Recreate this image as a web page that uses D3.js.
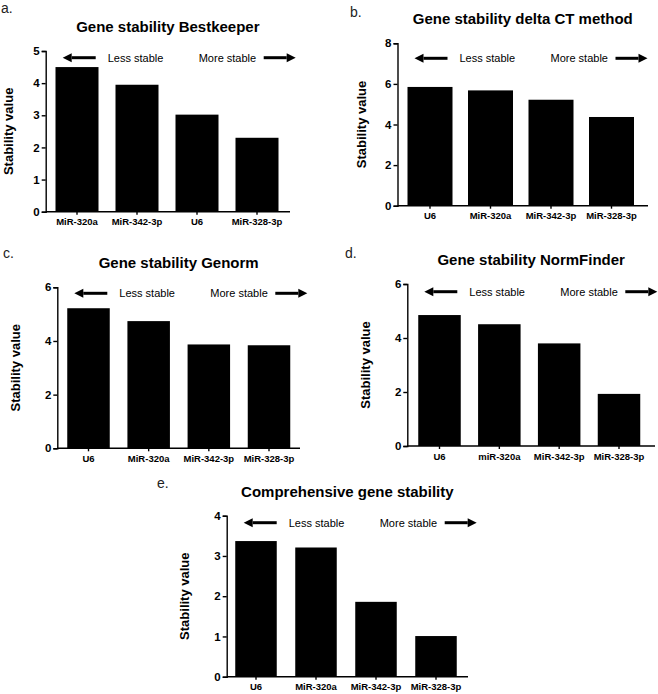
<!DOCTYPE html>
<html>
<head>
<meta charset="utf-8">
<script src="https://cdn.jsdelivr.net/npm/d3@7"></script>
<style>
  body { margin: 0; background: #fff; }
  svg { display: block; font-family: "Liberation Sans", Arial, Helvetica, sans-serif; }
</style>
</head>
<body>
<div id="chartDiv"></div>
<script>
  // values
  const genesA = ["MiR-320a", "MiR-342-3p", "U6", "MiR-328-3p"];
  const valuesA = [4.5, 3.95, 3.02, 2.3];
  const ticksA = [0, 1, 2, 3, 4, 5];

  const genesB = ["U6", "MiR-320a", "MiR-342-3p", "MiR-328-3p"];
  const valuesB = [5.85, 5.68, 5.22, 4.37];
  const ticksB = [0, 2, 4, 6, 8];

  const genesC = ["U6", "MiR-320a", "MiR-342-3p", "MiR-328-3p"];
  const valuesC = [5.22, 4.74, 3.87, 3.84];
  const ticksC = [0, 2, 4, 6];

  const genesD = ["U6", "miR-320a", "MiR-342-3p", "MiR-328-3p"];
  const valuesD = [4.85, 4.51, 3.8, 1.93];
  const ticksD = [0, 2, 4, 6];

  const genesE = ["U6", "MiR-320a", "MiR-342-3p", "MiR-328-3p"];
  const valuesE = [3.37, 3.21, 1.86, 1.01];
  const ticksE = [0, 1, 2, 3, 4];

  const titles = ["Gene stability Bestkeeper", "Gene stability delta CT method",
      "Gene stability Genorm", "Gene stability NormFinder", "Comprehensive gene stability"];
  const letters = ["a.", "b.", "c.", "d.", "e."];
  const yLabel = "Stability value";
  const lessText = "Less stable";
  const moreText = "More stable";

  const svg = d3.select("#chartDiv")
      .append("svg")
      .attr("width", 658)
      .attr("height", 694);

  // where each panel sits on the page
  // left = y axis, right = end of x axis, top/bottom = pixel of max tick / zero
  // c0/c1 = centre of first/last bar, labelX/labelY = panel letter
  const panels = [
      {genes: genesA, values: valuesA, ticks: ticksA, left: 45.7, right: 290, top: 51, bottom: 211.7,
       c0: 77, c1: 257, barW: 43, arrowDy: 6.7, ylabOff: 33, labelX: 1, labelY: 13},
      {genes: genesB, values: valuesB, ticks: ticksB, left: 397.5, right: 648, top: 43.3, bottom: 205.7,
       c0: 430, c1: 611.5, barW: 45, arrowDy: 15, ylabOff: 32, labelX: 350, labelY: 16.5},
      {genes: genesC, values: valuesC, ticks: ticksC, left: 57.3, right: 300, top: 287.3, bottom: 448.3,
       c0: 88.5, c1: 269, barW: 42.5, arrowDy: 6, ylabOff: 37.5, labelX: 3, labelY: 258},
      {genes: genesD, values: valuesD, ticks: ticksD, left: 407.3, right: 655, top: 284, bottom: 446,
       c0: 439.5, c1: 619, barW: 42.5, arrowDy: 7.7, ylabOff: 37.5, labelX: 345, labelY: 258},
      {genes: genesE, values: valuesE, ticks: ticksE, left: 226.7, right: 468, top: 515.7, bottom: 676.7,
       c0: 256, c1: 436, barW: 41.5, arrowDy: 7, ylabOff: 37.5, labelX: 157, labelY: 488}
  ];

  const drawArrow = (g, x1, x2, y) => {
      // shaft plus triangular head pointing towards x2
      const dir = x2 > x1 ? 1 : -1;
      const head = 9;
      g.append("line")
          .attr("x1", x1).attr("x2", x2 - dir * head)
          .attr("y1", y).attr("y2", y)
          .style("stroke", "black")
          .style("stroke-width", 3);
      g.append("path")
          .attr("d", `M${x2},${y} L${x2 - dir * head},${y - 4.5} L${x2 - dir * head},${y + 4.5} Z`)
          .style("fill", "black");
  };

  panels.forEach((p, i) => {
      const g = svg.append("g");

      const y = d3.scaleLinear()
          .domain([0, d3.max(p.ticks)])
          .range([p.bottom, p.top]);

      const step = (p.c1 - p.c0) / (p.genes.length - 1);
      const pad = 1 - p.barW / step;
      const x = d3.scaleBand()
          .domain(p.genes)
          .range([p.c0 - step / 2, p.c1 + step / 2])
          .paddingInner(pad)
          .paddingOuter(pad / 2);

      // bars
      g.selectAll("rect")
          .data(p.genes.map((d, k) => ({gene: d, value: p.values[k]})))
          .enter()
          .append("rect")
          .attr("x", d => x(d.gene))
          .attr("y", d => y(d.value))
          .attr("width", x.bandwidth())
          .attr("height", d => p.bottom - y(d.value))
          .style("fill", "black");

      // y axis
      const yAxis = g.append("g")
          .attr("transform", `translate(${p.left},0)`)
          .call(d3.axisLeft(y).tickValues(p.ticks).tickFormat(d3.format("d"))
              .tickSize(4).tickSizeOuter(4).tickPadding(2));
      yAxis.selectAll("text")
          .style("font-size", "11.5px")
          .style("font-weight", "bold")
          .style("fill", "black");

      // x axis: ticks at bar centres, line running to the right end
      const xAxis = g.append("g")
          .attr("transform", `translate(0,${p.bottom})`)
          .call(d3.axisBottom(x).tickSize(3).tickSizeOuter(0).tickPadding(4));
      xAxis.select(".domain").remove();
      xAxis.selectAll("text")
          .style("font-size", "9.5px")
          .style("font-weight", "bold")
          .style("fill", "black");
      g.append("line")
          .attr("x1", p.left).attr("x2", p.right)
          .attr("y1", p.bottom).attr("y2", p.bottom)
          .style("stroke", "black");

      g.selectAll(".domain, .tick line")
          .style("stroke", "black")
          .style("stroke-width", 1.4);
      g.selectAll("line").filter(function() { return !this.closest(".tick"); })
          .style("stroke-width", 1.4);

      // title
      g.append("text")
          .attr("x", (p.left + p.right) / 2)
          .attr("y", p.top - 19)
          .attr("text-anchor", "middle")
          .style("font-size", "15px")
          .style("font-weight", "bold")
          .text(titles[i]);

      // y label
      g.append("text")
          .attr("transform", `translate(${p.left - p.ylabOff},${(p.top + p.bottom) / 2}) rotate(-90)`)
          .attr("text-anchor", "middle")
          .style("font-size", "13px")
          .style("font-weight", "bold")
          .text(yLabel);

      // panel letter
      g.append("text")
          .attr("x", p.labelX)
          .attr("y", p.labelY)
          .style("font-size", "14px")
          .style("fill", "#222")
          .text(letters[i]);

      // stability arrows
      const ay = p.top + p.arrowDy;
      drawArrow(g, p.left + 50, p.left + 17, ay);
      drawArrow(g, p.left + 218, p.left + 250, ay);
      g.append("text")
          .attr("x", p.left + 62)
          .attr("y", ay + 3.8)
          .style("font-size", "11px")
          .text(lessText);
      g.append("text")
          .attr("x", p.left + 153)
          .attr("y", ay + 3.8)
          .style("font-size", "11px")
          .text(moreText);
  });
</script>
</body>
</html>
